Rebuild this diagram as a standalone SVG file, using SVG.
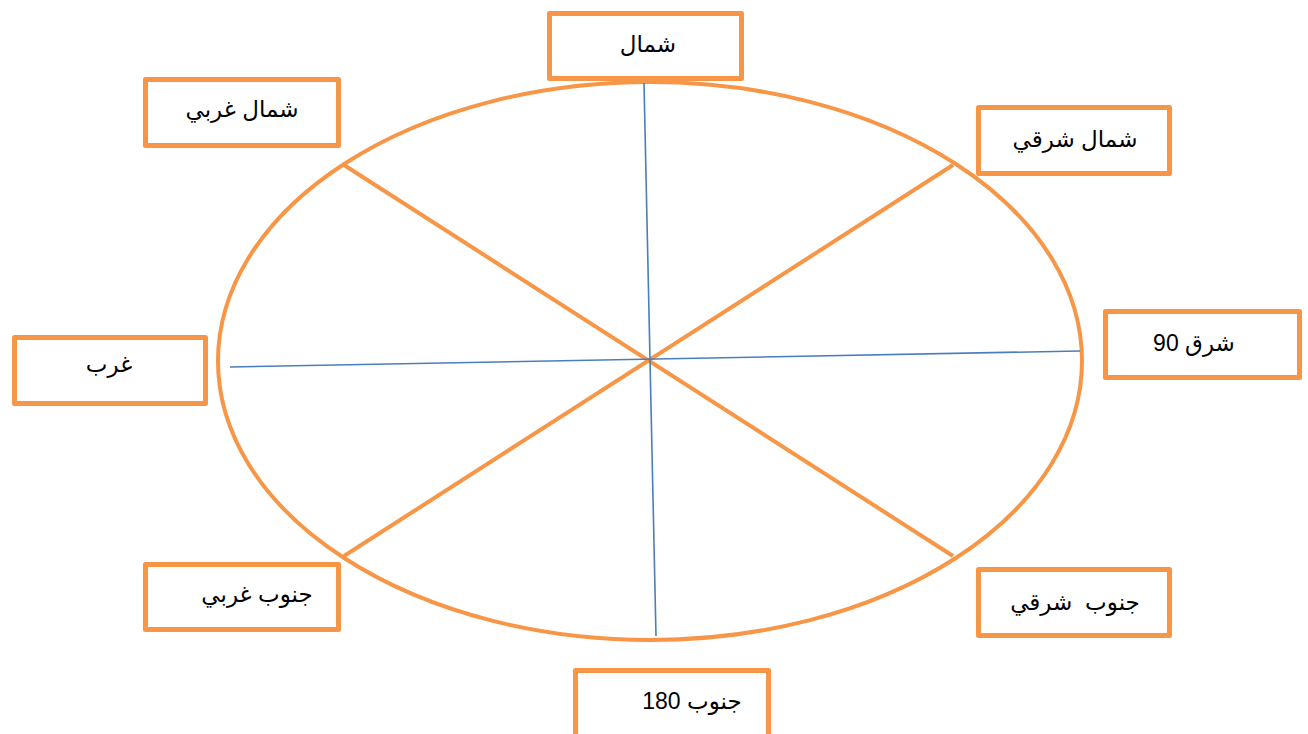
<svg xmlns="http://www.w3.org/2000/svg" width="1308" height="734" viewBox="0 0 1308 734">
<style>
.box{fill:#ffffff;stroke:#F79646;stroke-width:5;stroke-linejoin:round}
.lbl{font-family:"Liberation Sans","DejaVu Sans",sans-serif;font-size:23px;fill:#000000;text-anchor:middle}
.orange{stroke:#F79646;stroke-width:4;fill:none}
.blue{stroke:#4A7EBB;stroke-width:1.6;fill:none}
</style>
<rect width="1308" height="734" fill="#ffffff"/>
<g id="connectors">
<ellipse class="orange" cx="650" cy="361" rx="432" ry="279"/>
<line class="orange" x1="344" y1="165" x2="953" y2="556"/>
<line class="orange" x1="953" y1="165" x2="344" y2="556"/>
<line class="blue" x1="644" y1="83" x2="656" y2="636"/>
<line class="blue" x1="230" y1="367" x2="1080" y2="351"/>
</g>
<g id="north">
<rect class="box" x="549.5" y="13.5" width="192" height="65"/>
<text class="lbl" x="648" y="52">شمال</text>
</g>
<g id="northwest">
<rect class="box" x="145.5" y="79.5" width="193" height="66"/>
<text class="lbl" x="242" y="117">شمال غربي</text>
</g>
<g id="northeast">
<rect class="box" x="978.5" y="107.5" width="191" height="66"/>
<text class="lbl" x="1075" y="147">شمال شرقي</text>
</g>
<g id="east">
<rect class="box" x="1105.5" y="311.5" width="194" height="66"/>
<text class="lbl" x="1194" y="351">شرق 90</text>
</g>
<g id="west">
<rect class="box" x="14.5" y="337.5" width="191" height="66"/>
<text class="lbl" x="109" y="372">غرب</text>
</g>
<g id="southwest">
<rect class="box" x="145.5" y="564.5" width="193" height="65"/>
<text class="lbl" x="257" y="602">جنوب غربي</text>
</g>
<g id="southeast">
<rect class="box" x="978.5" y="569.5" width="191" height="66"/>
<text class="lbl" x="1075" y="610" xml:space="preserve">جنوب  شرقي</text>
</g>
<g id="south">
<rect class="box" x="575.5" y="670.5" width="193" height="70"/>
<text class="lbl" x="692" y="709">جنوب 180</text>
</g>
</svg>
